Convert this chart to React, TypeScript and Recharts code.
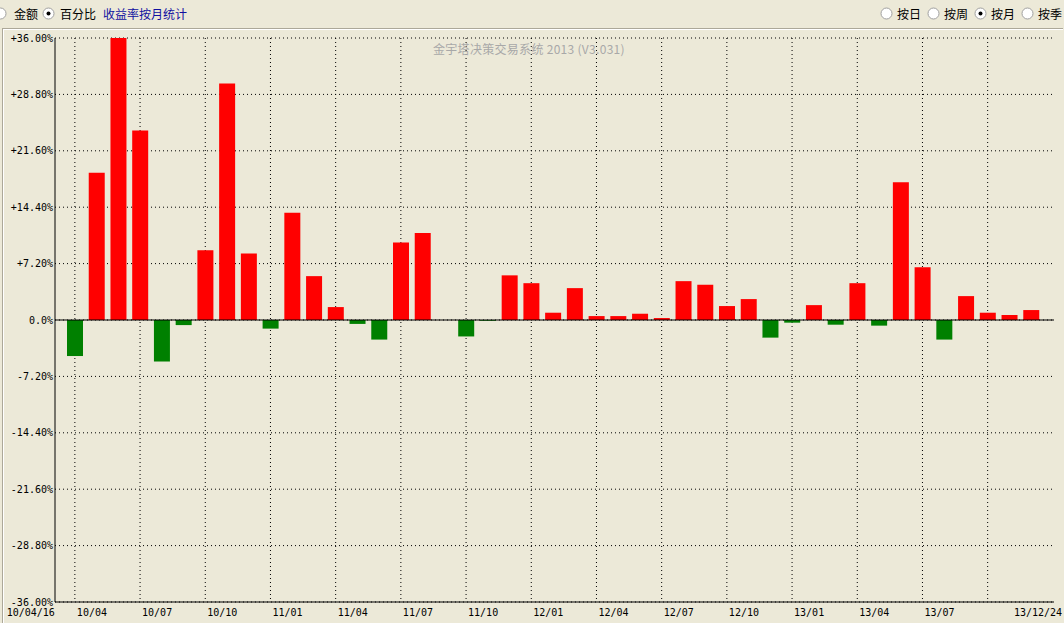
import React from 'react';
import { BarChart, Bar, XAxis, YAxis, CartesianGrid, ReferenceLine, Cell } from 'recharts';

const months = [
  '10/04', '10/05', '10/06', '10/07', '10/08', '10/09', '10/10', '10/11', '10/12',
  '11/01', '11/02', '11/03', '11/04', '11/05', '11/06', '11/07', '11/08', '11/09', '11/10', '11/11', '11/12',
  '12/01', '12/02', '12/03', '12/04', '12/05', '12/06', '12/07', '12/08', '12/09', '12/10', '12/11', '12/12',
  '13/01', '13/02', '13/03', '13/04', '13/05', '13/06', '13/07', '13/08', '13/09', '13/10', '13/11', '13/12',
];

const returns = [
  -4.6, 18.8, 36.0, 24.2, -5.3, -0.65, 8.9, 30.2, 8.5,
  -1.1, 13.7, 5.6, 1.65, -0.5, -2.5, 9.9, 11.1, 0, -2.1, -0.1, 5.7,
  4.7, 0.93, 4.07, 0.5, 0.5, 0.8, 0.25, 4.96, 4.5, 1.78, 2.67, -2.25,
  -0.34, 1.9, -0.6, 4.7, -0.72, 17.6, 6.74, -2.5, 3.05, 0.93, 0.64, 1.27,
];

const gridMonths = ['10/04', '10/07', '10/10', '11/01', '11/04', '11/07', '11/10', '12/01', '12/04', '12/07', '12/10', '13/01', '13/04', '13/07', '13/10'];
const labelMonths = ['10/04', '10/07', '10/10', '11/01', '11/04', '11/07', '11/10', '12/01', '12/04', '12/07', '12/10', '13/01', '13/04', '13/07'];
const startLabel = '10/04/16';
const endLabel = '13/12/24';

const yTicks = [36, 28.8, 21.6, 14.4, 7.2, 0, -7.2, -14.4, -21.6, -28.8, -36];

const title = '金宇塔决策交易系统 2013 (V3.031)';
const leftOptions = ['金额', '百分比'];
const leftChecked = 1;
const subtitle = '收益率按月统计';
const rightOptions = ['按日', '按周', '按月', '按季'];
const rightChecked = 2;

const data = months.map((m, i) => ({ month: m, value: returns[i] }));

const BG = '#ECE9D8';
const MONO = '"DejaVu Sans Mono", monospace';
const CJK = '"Noto Sans CJK SC", sans-serif';

const fmtY = (v: number) => {
  if (v === 0) return '0.0%';
  const s = Math.abs(v).toFixed(2) + '%';
  return (v > 0 ? '+' : '-') + s;
};

const XTick = (props: any) => {
  const { x, y, payload } = props;
  const v = payload.value as string;
  const items: any[] = [];
  const common = { fontFamily: MONO, fontSize: 10, fill: '#000' };
  if (labelMonths.includes(v)) {
    items.push(<text key="l" x={x + 2} y={y} dy={14} textAnchor="start" {...common}>{v}</text>);
  }
  if (v === months[0]) {
    items.push(<text key="s" x={x - 20} y={y} dy={14} textAnchor="end" {...common}>{startLabel}</text>);
  }
  if (v === months[months.length - 1]) {
    items.push(<text key="e" x={x + 31} y={y} dy={14} textAnchor="end" {...common}>{endLabel}</text>);
  }
  return <g>{items}</g>;
};

const Radio = ({ checked }: { checked: boolean }) => (
  <svg width={13} height={13} style={{ display: 'block' }}>
    <circle cx={6.5} cy={6.5} r={5.5} fill="#fff" stroke="#A0A0A0" />
    {checked && <circle cx={6.5} cy={6.5} r={2} fill="#000" />}
  </svg>
);

export default function App() {
  return (
    <div style={{ position: 'absolute', left: 0, top: 0, width: 1064, height: 623, background: BG, overflow: 'hidden', fontFamily: CJK }}>
      {/* header left */}
      <div style={{ position: 'absolute', left: -6, top: 5, display: 'flex', alignItems: 'center', fontSize: 12, color: '#000', whiteSpace: 'nowrap' }}>
        <div style={{ display: 'flex', alignItems: 'center', marginRight: 4 }}>
          <Radio checked={leftChecked === 0} />
          <span style={{ marginLeft: 7 }}>{leftOptions[0]}</span>
        </div>
        <div style={{ display: 'flex', alignItems: 'center', marginRight: 6 }}>
          <Radio checked={leftChecked === 1} />
          <span style={{ marginLeft: 5 }}>{leftOptions[1]}</span>
        </div>
        <span style={{ marginLeft: 1, color: '#1010A0' }}>{subtitle}</span>
      </div>
      {/* header right */}
      <div style={{ position: 'absolute', left: 880, top: 5, display: 'flex', alignItems: 'center', fontSize: 12, color: '#000', whiteSpace: 'nowrap' }}>
        {rightOptions.map((o, i) => (
          <div key={o} style={{ display: 'flex', alignItems: 'center', marginRight: 6 }}>
            <Radio checked={i === rightChecked} />
            <span style={{ marginLeft: 4 }}>{o}</span>
          </div>
        ))}
      </div>
      {/* frame */}
      <div style={{ position: 'absolute', left: 2, top: 28, width: 1060, height: 620, borderTop: '1px solid #ACA899', borderLeft: '1px solid #ACA899', boxShadow: 'inset 1px 1px 0 #fff' }} />
      <div style={{ position: 'absolute', left: 0, top: 0 }}>
        <BarChart width={1064} height={623} data={data} margin={{ top: 38, right: 10, bottom: 0, left: 0 }}>
          <CartesianGrid stroke="#000" strokeDasharray="1 3" horizontal={true} vertical={true} verticalValues={gridMonths} />
          <XAxis
            dataKey="month"
            interval={0}
            height={21}
            padding={{ left: 9, right: 12 }}
            tickLine={false}
            tickSize={0}
            tickMargin={0}
            axisLine={{ stroke: '#000' }}
            tick={<XTick />}
          />
          <XAxis xAxisId="top" dataKey="month" orientation="top" height={0} tick={false} tickLine={false} axisLine={{ stroke: '#000' }} />
          <YAxis
            domain={[-36, 36]}
            ticks={yTicks}
            interval={0}
            width={55}
            tickLine={false}
            tickSize={0}
            tickMargin={2}
            axisLine={{ stroke: '#000' }}
            tickFormatter={fmtY}
            tick={{ fontFamily: MONO, fontSize: 10, fill: '#000' }}
          />
          <YAxis yAxisId="right" orientation="right" domain={[-36, 36]} width={0} tick={false} tickLine={false} axisLine={{ stroke: '#000' }} />
          <Bar dataKey="value" barSize={16} isAnimationActive={false}>
            {data.map((d, i) => (
              <Cell key={i} fill={d.value >= 0 ? '#FF0000' : '#008000'} />
            ))}
          </Bar>
          <ReferenceLine y={0} stroke="#000" />
        </BarChart>
      </div>
      <div style={{ position: 'absolute', left: 433, top: 40, fontSize: 12, color: '#A8A8A8', whiteSpace: 'nowrap', fontFamily: CJK, letterSpacing: 0.3 }}>
        {title}
      </div>
    </div>
  );
}
